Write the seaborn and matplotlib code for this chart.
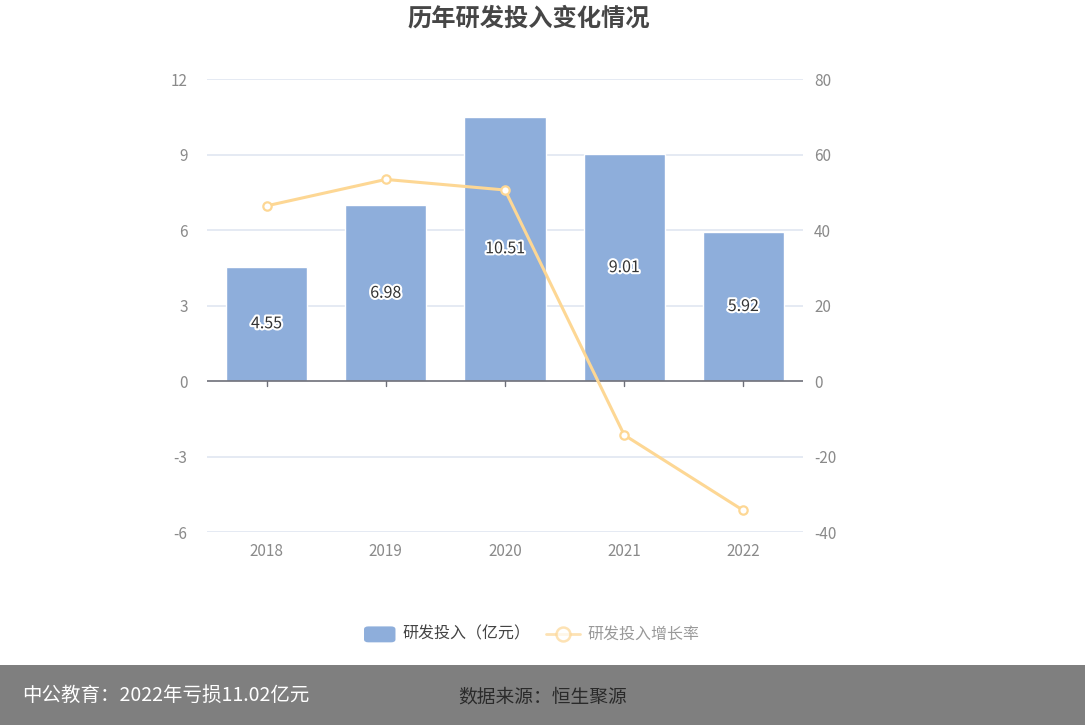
import numpy as np
import pandas as pd
import seaborn as sns
import matplotlib.pyplot as plt
from matplotlib.lines import Line2D
from matplotlib.patches import FancyBboxPatch
import matplotlib.patheffects as pe

years = ['2018', '2019', '2020', '2021', '2022']
rd_invest = [4.55, 6.98, 10.51, 9.01, 5.92]
growth = [46.4, 53.4, 50.6, -14.3, -34.3]
left_ticks = [-6, -3, 0, 3, 6, 9, 12]
right_ticks = [-40, -20, 0, 20, 40, 60, 80]

sns.set_style('white')
plt.rcParams['font.family'] = ['Noto Sans CJK SC', 'DejaVu Sans']
plt.rcParams['axes.unicode_minus'] = False

bar_color = '#8eaedb'
line_color = '#fdd794'
grid_color = '#e0e6f1'
tick_color = '#8a8a8a'

df = pd.DataFrame({'year': years, 'invest': rd_invest, 'growth': growth})
df['pos'] = np.arange(len(df))

fig = plt.figure(figsize=(10.85, 7.25), dpi=100)
ax = fig.add_axes([0.1908, 0.2662, 0.5493, 0.6248])

# grid lines behind the bars
for t in left_ticks:
    if t != 0:
        ax.axhline(t, color=grid_color, lw=1.2, zorder=0)

sns.barplot(data=df, x='year', y='invest', color=bar_color, width=0.68,
            saturation=1, ax=ax, zorder=2)
ax.axhline(0, color='#6e7079', lw=1.2, zorder=3)

# value labels in the middle of each bar
for i, v in enumerate(rd_invest):
    ax.text(i, v / 2, f'{v:.2f}', ha='center', va='center', fontsize=11.5,
            color='#333333', zorder=5,
            path_effects=[pe.withStroke(linewidth=3, foreground='white')])

ax.set_ylim(-6, 12)
ax.set_xlim(-0.5, len(years) - 0.5)
ax.set_yticks(left_ticks)
ax.set_yticklabels([str(t) for t in left_ticks])
ax.set_xlabel('')
ax.set_ylabel('')
for s in ax.spines.values():
    s.set_visible(False)
ax.tick_params(axis='y', length=0, pad=14, labelsize=11, labelcolor=tick_color)
ax.tick_params(axis='x', length=0, pad=8, labelsize=11, labelcolor=tick_color)
# small ticks under the zero line
for i in range(len(years)):
    ax.plot([i, i], [0, -0.18], color='#6e7079', lw=1, zorder=3, clip_on=False)

ax2 = ax.twinx()
sns.lineplot(data=df, x='pos', y='growth', ax=ax2, color=line_color, lw=2.2,
             marker='o', markersize=6, markerfacecolor='white',
             markeredgecolor=line_color, markeredgewidth=1.6, zorder=4)
ax2.set_ylim(-40, 80)
ax2.set_yticks(right_ticks)
ax2.set_yticklabels([str(t) for t in right_ticks])
ax2.set_ylabel('')
ax2.set_xlabel('')
for s in ax2.spines.values():
    s.set_visible(False)
ax2.tick_params(axis='y', length=0, pad=8, labelsize=11, labelcolor=tick_color)
ax2.set_xlim(-0.5, len(years) - 0.5)

fig.text(0.487, 0.975, '历年研发投入变化情况', ha='center', va='center',
         fontsize=17.5, fontweight='bold', color='#464646')

# legend drawn by hand so the bar swatch can be rounded
lx, ly = 0.3355, 0.125
fig.patches.append(FancyBboxPatch((lx, ly - 0.011), 0.029, 0.022,
                                  boxstyle='round,pad=0,rounding_size=0.004',
                                  transform=fig.transFigure, facecolor=bar_color,
                                  edgecolor='none'))
fig.text(0.371, ly, '研发投入（亿元）', ha='left', va='center', fontsize=11.5,
         color='#444444')
fig.lines.append(Line2D([0.503, 0.535], [ly, ly], transform=fig.transFigure,
                        color=line_color, lw=2, alpha=0.7))
fig.lines.append(Line2D([0.519], [ly], transform=fig.transFigure, marker='o',
                        markersize=10, markerfacecolor='white',
                        markeredgecolor=line_color, markeredgewidth=1.8,
                        alpha=0.7))
fig.text(0.541, ly, '研发投入增长率', ha='left', va='center', fontsize=11.5,
         color='#999999')

# footer band
fig.patches.append(plt.Rectangle((0, 0), 1, 60 / 725, transform=fig.transFigure,
                                 facecolor='#7f7f7f', edgecolor='none', zorder=0))
fig.text(0.02, 0.041, '中公教育：2022年亏损11.02亿元', ha='left', va='center',
         fontsize=14, color='white')
fig.text(0.422, 0.038, '数据来源：恒生聚源', ha='left', va='center',
         fontsize=13.5, color='#2a2a2a')

fig.savefig('out.png', dpi=100)
